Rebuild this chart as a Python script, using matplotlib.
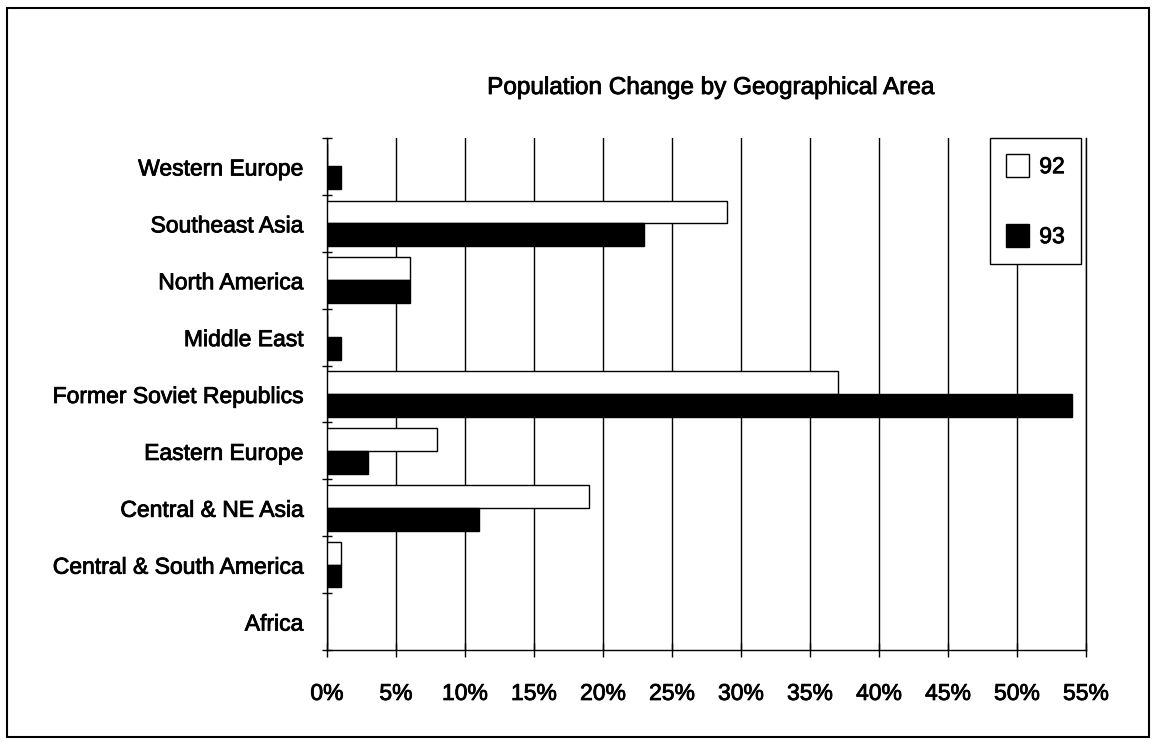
import numpy as np
import matplotlib
matplotlib.use("Agg")
import matplotlib.pyplot as plt
import matplotlib.patheffects as pe
from matplotlib.patches import Rectangle
from matplotlib.ticker import FuncFormatter

plt.rcParams['font.family'] = ['Liberation Sans', 'DejaVu Sans']

# regions listed bottom to top, as they go up the y axis
regions = ["Africa", "Central & South America", "Central & NE Asia",
           "Eastern Europe", "Former Soviet Republics", "Middle East",
           "North America", "Southeast Asia", "Western Europe"]
change_92 = [0, 1, 19, 8, 37, 0, 6, 29, 0]
change_93 = [0, 1, 11, 3, 54, 1, 6, 23, 1]
x_ticks = [0, 5, 10, 15, 20, 25, 30, 35, 40, 45, 50, 55]

W, H = 1156, 744
fig = plt.figure(figsize=(W / 100, H / 100), dpi=100)
ax = fig.add_axes([327 / W, 1 - 650 / H, (1086 - 327) / W, (650 - 138) / H])

y = np.arange(len(regions))
h = 0.40
b92 = ax.barh(y + h / 2, change_92, height=h, color="white",
              edgecolor="black", linewidth=1.0, label="92", zorder=3)
b93 = ax.barh(y - h / 2, change_93, height=h, color="black",
              edgecolor="black", linewidth=1.0, label="93", zorder=3)

ax.set_xlim(0, 55)
ax.set_ylim(-0.5, len(regions) - 0.5)
ax.set_xticks(x_ticks)
ax.xaxis.set_major_formatter(FuncFormatter(lambda v, p: f"{v:.0f}%"))
ax.set_yticks(y)
ax.set_yticklabels(regions)
ax.set_yticks(np.arange(len(regions) + 1) - 0.5, minor=True)

ax.tick_params(axis="y", which="major", length=0, pad=17, labelsize=16.5)
ax.tick_params(axis="y", which="minor", direction="inout", length=7.5,
               width=1.0, color="black")
ax.tick_params(axis="x", direction="inout", length=10, width=1.0,
               pad=18, labelsize=16.5)

ax.grid(axis="x", color="black", linewidth=1.0, zorder=0)
ax.set_axisbelow(True)
ax.spines["top"].set_visible(False)
for s in ("left", "bottom", "right"):
    ax.spines[s].set_linewidth(1.0)

leg = ax.legend(handles=[b92, b93], loc="upper left",
                bbox_to_anchor=(990 / W, 1 - 138 / H),
                bbox_transform=fig.transFigure, borderaxespad=0,
                fontsize=16.5, handlelength=1.0, handleheight=1.15,
                handletextpad=0.45, labelspacing=2.0, borderpad=0.7,
                fancybox=False, framealpha=1, edgecolor="black")
leg.get_frame().set_linewidth(1.0)

title = fig.text(710 / W, 1 - 88 / H, "Population Change by Geographical Area",
                 ha="center", va="center", fontsize=17.5)

# slightly heavier strokes on all text
heavy = [pe.withStroke(linewidth=0.6, foreground="black")]
for t in ax.get_xticklabels() + ax.get_yticklabels() + leg.get_texts() + [title]:
    t.set_path_effects(heavy)

# frame around the whole chart
fig.patches.append(Rectangle((7 / W, 7 / H), (1149 - 7) / W, (736 - 7) / H,
                             transform=fig.transFigure, fill=False,
                             edgecolor="black", linewidth=1.5))

fig.savefig("out.png", dpi=100)
